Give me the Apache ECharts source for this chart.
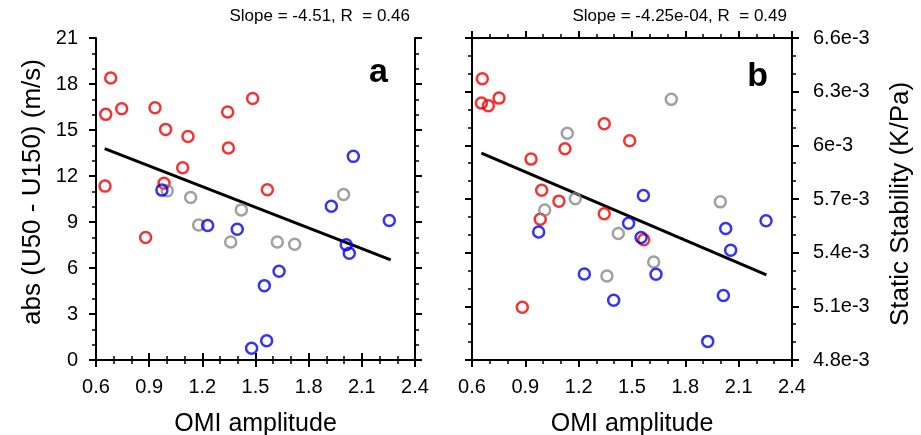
<!DOCTYPE html>
<html>
<head>
<meta charset="utf-8">
<script src="https://cdn.jsdelivr.net/npm/echarts@6/dist/echarts.min.js"></script>
<style>
html,body{margin:0;padding:0;background:#fff;}
#chart{width:921px;height:435px;}
</style>
</head>
<body>
<div id="chart"></div>
<script>
// ---------- data ----------
// Panel a: abs(U50 - U150) (m/s) vs OMI amplitude
const redA = [[0.683,18.39],[0.655,16.02],[0.745,16.39],[0.933,16.45],[0.993,15.04],[1.119,14.58],[1.343,16.17],[1.484,17.06],[1.347,13.82],[1.089,12.54],[0.651,11.34],[0.984,11.53],[1.567,11.10],[0.880,7.99]];
const grayA = [[1.002,11.03],[1.134,10.60],[1.420,9.79],[1.179,8.81],[1.360,7.70],[1.623,7.70],[1.721,7.55],[1.997,10.79]];
const blueA = [[0.972,11.08],[1.230,8.77],[1.397,8.53],[2.052,13.28],[1.928,10.03],[2.012,7.51],[2.029,6.96],[2.255,9.10],[1.633,5.79],[1.550,4.85],[1.563,1.26],[1.478,0.76]];
const fitA = [[0.649,13.78],[2.263,6.53]];
// Panel b: Static stability (K/Pa) vs OMI amplitude
const redB = [[0.658,6.372e-3],[0.653,6.236e-3],[0.692,6.221e-3],[0.752,6.264e-3],[1.344,6.121e-3],[1.487,6.026e-3],[1.123,5.981e-3],[0.932,5.923e-3],[0.992,5.749e-3],[1.089,5.688e-3],[0.984,5.587e-3],[1.344,5.617e-3],[1.566,5.472e-3],[0.883,5.095e-3]];
const grayB = [[1.721,6.257e-3],[1.136,6.067e-3],[1.181,5.701e-3],[1.009,5.638e-3],[1.423,5.507e-3],[1.622,5.348e-3],[1.359,5.270e-3],[1.997,5.684e-3]];
const blueB = [[0.975,5.516e-3],[1.232,5.281e-3],[1.397,5.134e-3],[1.564,5.720e-3],[1.481,5.565e-3],[1.551,5.485e-3],[1.635,5.279e-3],[1.926,4.904e-3],[2.014,5.160e-3],[2.027,5.535e-3],[2.055,5.414e-3],[2.254,5.578e-3]];
const fitB = [[0.653,5.957e-3],[2.256,5.276e-3]];
// axes ranges [min, max, interval]
const xRange = [0.6, 2.4, 0.3];
const yRangeA = [0, 21, 3];
const yRangeB = [0.0048, 0.0066, 0.0003];
const titleA = 'Slope = -4.51, R  = 0.46';
const titleB = 'Slope = -4.25e-04, R  = 0.49';
const xName = 'OMI amplitude';
const yNameA = 'abs (U50 - U150) (m/s)';
const yNameB = 'Static Stability (K/Pa)';

// ---------- chart ----------
const FONT = '"Liberation Sans", Arial, Helvetica, sans-serif';
const chart = echarts.init(document.getElementById('chart'), null, {renderer:'canvas'});
const axLine = {show:true, lineStyle:{color:'#000', width:2}};
const axTick = {show:true, inside:false, length:7, lineStyle:{color:'#000', width:2}};
const minTick = {show:true, splitNumber:3, length:4, lineStyle:{color:'#000', width:1.5}};
const lblStyle = {color:'#000', fontSize:20, fontFamily:FONT};

function xAx(grid, pos, labels){
  return {
    type:'value', gridIndex:grid, position:pos,
    min:xRange[0], max:xRange[1], interval:xRange[2],
    axisLine:axLine, axisTick:axTick, minorTick:minTick,
    splitLine:{show:false}, minorSplitLine:{show:false},
    axisLabel:{show:labels, margin:17, ...lblStyle, formatter:v=>(+v.toFixed(1)).toString()},
    name: labels ? xName : '', nameLocation:'middle', nameGap:52,
    nameTextStyle:{color:'#000', fontSize:25, fontFamily:FONT}
  };
}
function yAx(grid, pos, range, labels, name, fmt, margin, nameGap, pad){
  return {
    type:'value', gridIndex:grid, position:pos,
    min:range[0], max:range[1], interval:range[2],
    axisLine:axLine, axisTick:axTick, minorTick:minTick,
    splitLine:{show:false}, minorSplitLine:{show:false},
    axisLabel:{show:labels, margin:margin, ...lblStyle, formatter:fmt},
    name: labels ? name : '', nameLocation:'middle', nameGap:nameGap,
    nameTextStyle:{color:'#000', fontSize:26, fontFamily:FONT, padding:pad}
  };
}
const fmtA = v => String(Math.round(v));
const fmtB = v => (+(v*1000).toFixed(1)) + 'e-3';

function scat(data, color, xi, yi){
  return {type:'scatter', data:data, xAxisIndex:xi, yAxisIndex:yi,
    symbol:'circle', symbolSize:11,
    itemStyle:{color:'rgba(0,0,0,0)', borderColor:color, borderWidth:2.5}, z:3, silent:true};
}
function fit(data, xi, yi){
  return {type:'line', data:data, xAxisIndex:xi, yAxisIndex:yi, symbol:'none',
    lineStyle:{color:'#000', width:3}, z:2, silent:true};
}
const RED='#f00000', GRAY='#888888', BLUE='#0000f0';

chart.setOption({
  backgroundColor:'#fff',
  animation:false,
  title:[
    {text:titleA, right:506, top:3, textStyle:{color:'#000', fontSize:17, fontWeight:'normal', fontFamily:FONT}},
    {text:titleB, right:129, top:3, textStyle:{color:'#000', fontSize:17, fontWeight:'normal', fontFamily:FONT}},
    {text:'a', right:528, top:51, textStyle:{color:'#000', fontSize:34, fontWeight:'bold', fontFamily:FONT}},
    {text:'b', right:148, top:55, textStyle:{color:'#000', fontSize:34, fontWeight:'bold', fontFamily:FONT}}
  ],
  grid:[
    {left:96, right:506, top:38, bottom:75, outerBoundsMode:'none', containLabel:false},
    {left:472, right:129, top:38, bottom:75, outerBoundsMode:'none', containLabel:false}
  ],
  xAxis:[ xAx(0,'bottom',true), xAx(0,'top',false), xAx(1,'bottom',true), xAx(1,'top',false) ],
  yAxis:[
    yAx(0,'left',yRangeA,true,yNameA,fmtA,18,50,[0,0,0,14]),
    yAx(0,'right',yRangeA,false,'',fmtA,18,50,0),
    yAx(1,'left',yRangeB,false,'',fmtB,18,50,0),
    yAx(1,'right',yRangeB,true,yNameB,fmtB,21,96,[0,10,0,0])
  ],
  series:[
    fit(fitA,0,0),
    scat(redA,RED,0,0), scat(grayA,GRAY,0,0), scat(blueA,BLUE,0,0),
    fit(fitB,2,3),
    scat(redB,RED,2,3), scat(grayB,GRAY,2,3), scat(blueB,BLUE,2,3)
  ]
});
</script>
</body>
</html>
